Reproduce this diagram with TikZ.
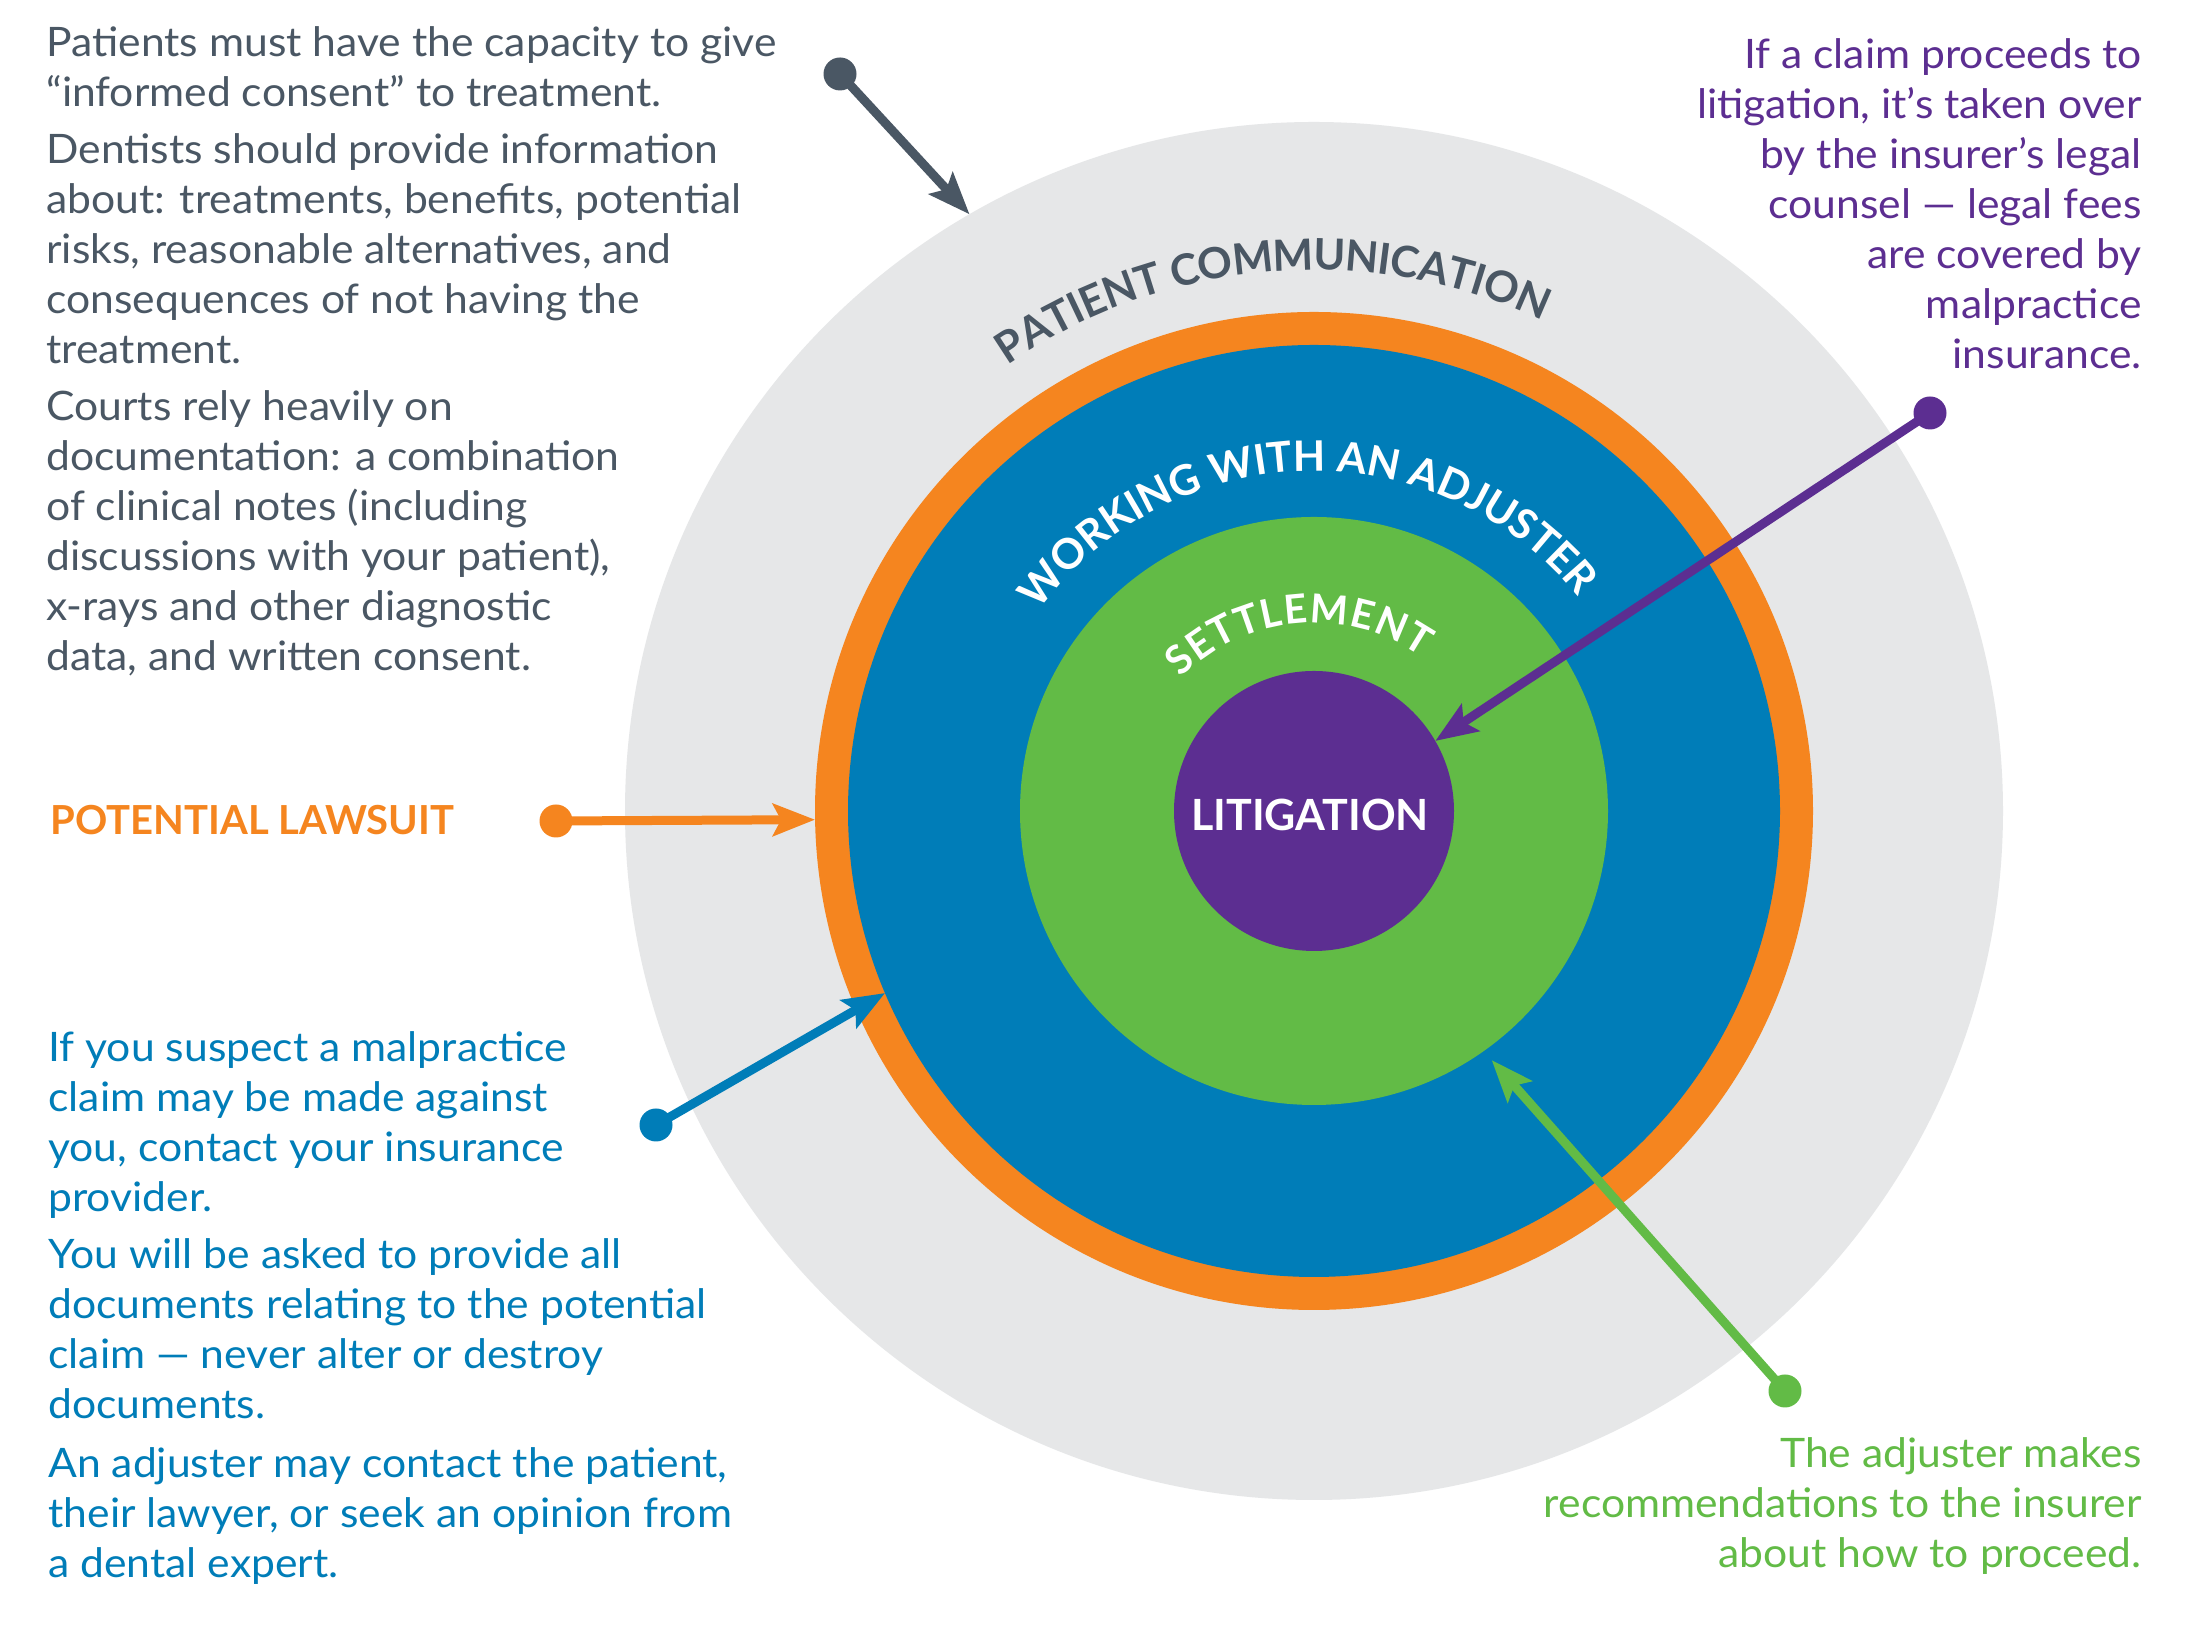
\documentclass[tikz,border=0pt]{standalone}
\usepackage{fontspec}
\setmainfont{Lato}
\newfontfamily\bodyfont{Lato}[FakeStretch=1.05]
\usetikzlibrary{arrows.meta,decorations.text}
\definecolor{cgray}{HTML}{E6E7E8}
\definecolor{corange}{HTML}{F5851F}
\definecolor{cblue}{HTML}{007DB8}
\definecolor{cgreen}{HTML}{62BB46}
\definecolor{cpurple}{HTML}{5C2E91}
\definecolor{cslate}{HTML}{4A5764}
\begin{document}
\begin{tikzpicture}[x=0.5pt,y=0.5pt,
  ring/.style={circle, inner sep=0pt, outer sep=0pt},
  dotnode/.style={circle, inner sep=0pt, outer sep=0pt, minimum size=16.5pt},
  pointer/.style={line width=4.5pt, -{Stealth[length=21pt,width=16pt,inset=4pt]}},
  para/.style={inner sep=0pt, font=\bodyfont\fontsize{20.3}{25}\selectfont},
  ringlabel/.style={inner sep=0pt, font=\bfseries\fontsize{21.5}{25}\selectfont},
]
\useasboundingbox[fill=white] (0,0) rectangle (2192,1626);
\coordinate (C) at (1314,815);
% rings
\node[ring, fill=cgray, minimum size=689pt] (gray) at (C) {};
\node[ring, fill=corange, minimum size=499pt] (orange) at (C) {};
\node[ring, fill=cblue, minimum size=466pt] (blue) at (C) {};
\node[ring, fill=cgreen, minimum size=294pt] (green) at (C) {};
\node[ring, fill=cpurple, minimum size=140pt] (litig) at (C) {};
\node[ringlabel, text=white] (littext) at (1310,811) {LITIGATION};
% curved labels
\path[decorate, decoration={text effects along path, text={PATIENT COMMUNICATION},
  text effects/.cd, text along path, fit text to path,
  characters={text=cslate, font=\bfseries\fontsize{21.5}{24}\selectfont}}]
  (C) ++(124.5:541) arc[start angle=124.5, end angle=65, radius=541];
\path[decorate, decoration={text effects along path, text={WORKING WITH AN ADJUSTER},
  text effects/.cd, text along path, fit text to path,
  characters={text=white, font=\bfseries\fontsize{21}{24}\selectfont}}]
  (C) ++(144:340) arc[start angle=144, end angle=39, radius=340];
\path[decorate, decoration={text effects along path, text={SETTLEMENT},
  text effects/.cd, text along path, fit text to path,
  characters={text=white, font=\bfseries\fontsize{20}{22}\selectfont}}]
  (C) ++(135:188) arc[start angle=135, end angle=55, radius=188];
% text blocks
\node[para, text=cslate, anchor=base west] (tl1) at (46,1569) {\begin{tabular}[t]{@{}l@{}}Patients must have the capacity to give\\“informed consent” to treatment.\end{tabular}};
\node[para, text=cslate, anchor=base west] (tl2) at (46,1462) {\begin{tabular}[t]{@{}l@{}}Dentists should provide information\\about: treatments, benefits, potential\\risks, reasonable alternatives, and\\consequences of not having the\\treatment.\end{tabular}};
\node[para, text=cslate, anchor=base west] (tl3) at (46,1205) {\begin{tabular}[t]{@{}l@{}}Courts rely heavily on\\documentation: a combination\\of clinical notes (including\\discussions with your patient),\\x-rays and other diagnostic\\data, and written consent.\end{tabular}};
\node[para, text=cpurple, anchor=base east] (tr) at (2142,1557) {\begin{tabular}[t]{@{}r@{}}If a claim proceeds to\\litigation, it’s taken over\\by the insurer’s legal\\counsel — legal fees\\are covered by\\malpractice\\insurance.\end{tabular}};
\node[inner sep=0pt, font=\bfseries\fontsize{20}{25}\selectfont, text=corange, anchor=base west] (lawsuit) at (50,791) {POTENTIAL LAWSUIT};
\node[para, text=cblue, anchor=base west] (bl1) at (48,564) {\begin{tabular}[t]{@{}l@{}}If you suspect a malpractice\\claim may be made against\\you, contact your insurance\\provider.\end{tabular}};
\node[para, text=cblue, anchor=base west] (bl2) at (48,357) {\begin{tabular}[t]{@{}l@{}}You will be asked to provide all\\documents relating to the potential\\claim — never alter or destroy\\documents.\end{tabular}};
\node[para, text=cblue, anchor=base west] (bl3) at (48,148) {\begin{tabular}[t]{@{}l@{}}An adjuster may contact the patient,\\their lawyer, or seek an opinion from\\a dental expert.\end{tabular}};
\node[para, text=cgreen, anchor=base east] (br) at (2142,158) {\begin{tabular}[t]{@{}r@{}}The adjuster makes\\recommendations to the insurer\\about how to proceed.\end{tabular}};
% dots
\node[dotnode, fill=cslate] (dslate) at (840,1552) {};
\node[dotnode, fill=cpurple] (dpurple) at (1930,1213) {};
\node[dotnode, fill=corange] (dorange) at (556,805) {};
\node[dotnode, fill=cblue] (dblue) at (656,501) {};
\node[dotnode, fill=cgreen] (dgreen) at (1785,235) {};
\path (C) ++(-54.5:306) coordinate (gtip);
% connectors
\draw[pointer, cslate] (dslate.center) -- (gray.120.9);
\draw[pointer, cpurple] (dpurple.center) -- (litig.30.4);
\draw[pointer, corange] (dorange.center) -- (orange.181.15);
\draw[pointer, cblue] (dblue.center) -- (blue.203.6);
\draw[pointer, cgreen] (dgreen.center) -- (gtip);
\end{tikzpicture}
\end{document}
